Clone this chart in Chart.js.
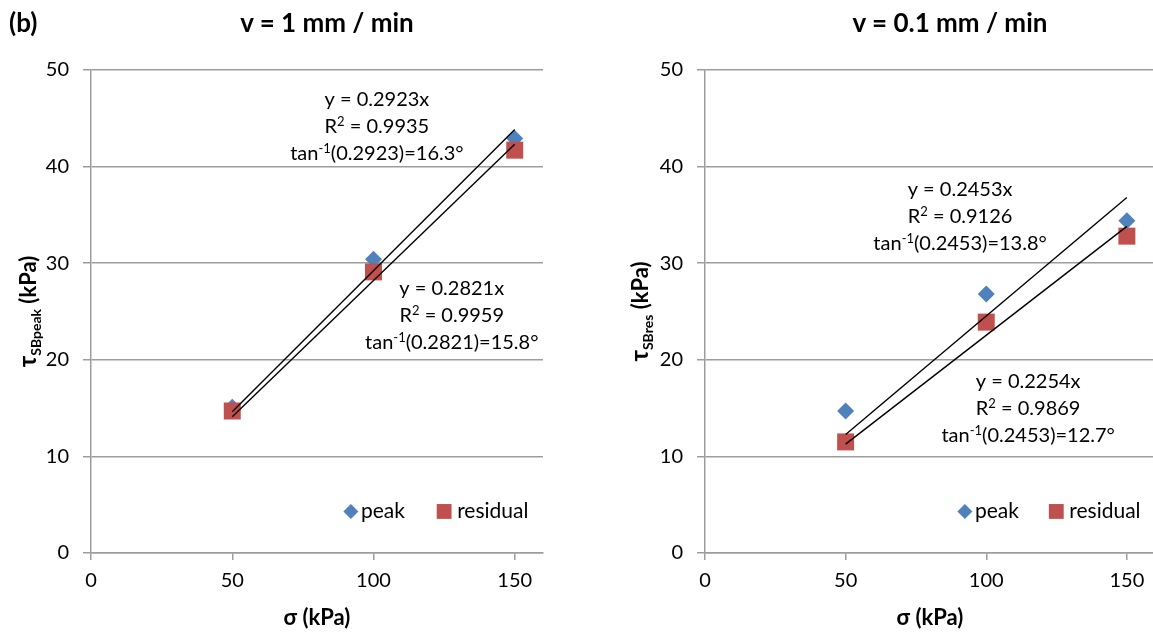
<!DOCTYPE html>
<html>
<head>
<meta charset="utf-8">
<script src="https://cdn.jsdelivr.net/npm/chart.js@4/dist/chart.umd.min.js"></script>
<style>
    html, body { margin: 0; background: #fff; overflow: hidden; }
    body { width: 1153px; height: 636px; position: relative; font-family: Lato, sans-serif; }
    .panel { position: absolute; top: 0; height: 636px; }
    .title { position: absolute; top: 4px; line-height: 36px; font-size: 26px; font-weight: bold; color: #000; white-space: nowrap; transform: translateX(-50%); z-index: 2; }
</style>
</head>
<body>
<div class="panel" style="left: 0; width: 576px;"><canvas id="chartFast" width="576" height="636"></canvas></div>
<div class="panel" style="left: 576px; width: 581px;"><canvas id="chartSlow" width="581" height="636"></canvas></div>
<div class="title" style="left: 9px; transform: none;">(b)</div>
<div class="title" id="titleFast" style="left: 327px;"></div>
<div class="title" id="titleSlow" style="left: 950px;"></div>

<script>
// ---- data ----
const titles = ['v = 1 mm / min', 'v = 0.1 mm / min'];
const seriesNames = ['peak', 'residual'];
const xTicks = [0, 50, 100, 150];
const yTicks = [0, 10, 20, 30, 40, 50];

const sigma = [50, 100, 150];
const peakFast = [15.1, 30.4, 42.9];
const residualFast = [14.7, 29.1, 41.7];
const peakSlow = [14.7, 26.8, 34.4];
const residualSlow = [11.5, 23.9, 32.8];

// linear trendlines through the origin, drawn over the measured range
const trendRange = [50, 150];
const slopesFast = [0.2923, 0.2821];
const r2Fast = ['0.9935', '0.9959'];
const tanArgFast = ['0.2923', '0.2821'];
const anglesFast = ['16.3', '15.8'];
const slopesSlow = [0.2453, 0.2254];
const r2Slow = ['0.9126', '0.9869'];
const tanArgSlow = ['0.2453', '0.2453'];
const anglesSlow = ['13.8', '12.7'];

const BLUE = '#4F81BD';
const RED = '#C0504D';
const GRID = '#9d9d9d';
const FONT = 'Lato, sans-serif';

function toPoints(xs, ys) {
    return xs.map((x, i) => ({ x: x, y: ys[i] }));
}

function trendPoints(slope) {
    return trendRange.map(x => ({ x: x, y: slope * x }));
}

// draws a row of text pieces (normal / sup / sub) centred on cx, baseline at y
function drawRich(ctx, parts, cx, y) {
    let total = 0;
    parts.forEach(p => {
        ctx.font = p.font;
        p.w = ctx.measureText(p.text).width;
        total += p.w;
    });
    let x = cx - total / 2;
    ctx.textAlign = 'left';
    ctx.textBaseline = 'alphabetic';
    parts.forEach(p => {
        ctx.font = p.font;
        ctx.fillText(p.text, x, y + (p.dy || 0));
        x += p.w;
    });
}

function noteLines(slope, r2, tanArg, angle) {
    const f = `20px ${FONT}`;
    const s = `13px ${FONT}`;
    return [
        [{ text: `y = ${slope}x`, font: f }],
        [{ text: 'R', font: f }, { text: '2', font: s, dy: -7 }, { text: ` = ${r2}`, font: f }],
        [{ text: 'tan', font: f }, { text: '-1', font: s, dy: -7 }, { text: `(${tanArg})=${angle}°`, font: f }]
    ];
}

const overlayPlugin = {
    id: 'overlay',
    afterDatasetsDraw(chart, args, opts) {
        const ctx = chart.ctx;
        const xs = chart.scales.x;
        const ys = chart.scales.y;
        const area = chart.chartArea;
        ctx.save();
        ctx.fillStyle = '#000';

        // y axis title with subscript
        ctx.save();
        ctx.translate(opts.yTitleX, (area.top + area.bottom) / 2);
        ctx.rotate(-Math.PI / 2);
        drawRich(ctx, [
            { text: 'τ', font: `bold 24px ${FONT}` },
            { text: opts.ySub, font: `bold 14px ${FONT}`, dy: 5 },
            { text: ' (kPa)', font: `bold 22px ${FONT}` }
        ], 0, 8);
        ctx.restore();

        // trendline equations
        opts.notes.forEach(n => {
            const cx = xs.getPixelForValue(n.at[0]);
            const cy = ys.getPixelForValue(n.at[1]);
            n.lines.forEach((line, i) => drawRich(ctx, line, cx, cy + 7 + i * 27));
        });

        // legend inside the plot
        const ly = ys.getPixelForValue(4.3);
        chart.data.datasets.slice(0, 2).forEach((ds, i) => {
            const mx = xs.getPixelForValue(opts.legendAt[i]);
            ctx.fillStyle = ds.backgroundColor;
            Chart.helpers.drawPoint(ctx, { pointStyle: ds.pointStyle, radius: i === 0 ? 7.5 : 10.5, rotation: 0, borderWidth: 0 }, mx, ly);
            ctx.fillStyle = '#000';
            ctx.font = `21px ${FONT}`;
            ctx.textAlign = 'left';
            ctx.textBaseline = 'middle';
            ctx.fillText(ds.label, mx + (i === 0 ? 10 : 13), ly);
        });
        ctx.restore();
    }
};

function makeChart(canvasId, cfg) {
    const ctx = document.getElementById(canvasId).getContext('2d');
    const tickFont = { family: FONT, size: 20 };
    return new Chart(ctx, {
        type: 'scatter',
        data: {
            datasets: [{
                label: seriesNames[0],
                data: toPoints(sigma, cfg.peak),
                pointStyle: 'rectRot',
                pointRadius: 8.5,
                backgroundColor: BLUE,
                borderColor: BLUE,
                borderWidth: 0,
                order: 2
            }, {
                label: seriesNames[1],
                data: toPoints(sigma, cfg.residual),
                pointStyle: 'rect',
                pointRadius: 12,
                backgroundColor: RED,
                borderColor: RED,
                borderWidth: 0,
                order: 1
            }, {
                label: 'trend peak',
                data: trendPoints(cfg.slopes[0]),
                showLine: true,
                borderColor: '#000',
                borderWidth: 1.4,
                pointRadius: 0,
                order: 0
            }, {
                label: 'trend residual',
                data: trendPoints(cfg.slopes[1]),
                showLine: true,
                borderColor: '#000',
                borderWidth: 1.4,
                pointRadius: 0,
                order: 0
            }]
        },
        options: {
            responsive: false,
            animation: false,
            events: [],
            layout: {
                autoPadding: false,
                padding: { top: 70, right: cfg.padRight, left: 0, bottom: 0 }
            },
            plugins: {
                legend: { display: false },
                tooltip: { enabled: false },
                overlay: cfg.overlay
            },
            scales: {
                x: {
                    type: 'linear',
                    min: 0,
                    max: 160,
                    afterBuildTicks: axis => { axis.ticks = xTicks.map(v => ({ value: v })); },
                    afterFit: axis => {
                        axis.height = 83;
                        // don't let the edge labels squeeze the plot area
                        axis.paddingLeft = 0;
                        axis.paddingRight = 0;
                    },
                    grid: { drawOnChartArea: false, color: GRID, lineWidth: 1.5, tickLength: 7 },
                    border: { color: GRID, width: 1.5 },
                    ticks: { font: tickFont, color: '#000', padding: 9, maxRotation: 0 },
                    title: {
                        display: true,
                        text: 'σ (kPa)',
                        color: '#000',
                        font: { family: FONT, size: 22, weight: 'bold' },
                        padding: { top: 0, bottom: 5 }
                    }
                },
                y: {
                    type: 'linear',
                    min: 0,
                    max: 50,
                    afterBuildTicks: axis => { axis.ticks = yTicks.map(v => ({ value: v })); },
                    afterFit: axis => { axis.width = cfg.yWidth; },
                    grid: { color: GRID, lineWidth: 1.5, tickLength: 8 },
                    border: { color: GRID, width: 1.5 },
                    ticks: { font: tickFont, color: '#000', padding: 14 }
                }
            }
        },
        plugins: [overlayPlugin]
    });
}

document.getElementById('titleFast').textContent = titles[0];
document.getElementById('titleSlow').textContent = titles[1];

makeChart('chartFast', {
    peak: peakFast,
    residual: residualFast,
    slopes: slopesFast,
    yWidth: 91,
    padRight: 33,
    overlay: {
        ySub: 'SBpeak',
        yTitleX: 28,
        legendAt: [92, 125],
        notes: [
            { at: [101.2, 47.0], lines: noteLines(slopesFast[0], r2Fast[0], tanArgFast[0], anglesFast[0]) },
            { at: [127.7, 27.4], lines: noteLines(slopesFast[1], r2Fast[1], tanArgFast[1], anglesFast[1]) }
        ]
    }
});

// right panel runs a few pixels past the page edge, like the cropped original
makeChart('chartSlow', {
    peak: peakSlow,
    residual: residualSlow,
    slopes: slopesSlow,
    yWidth: 129,
    padRight: 2,
    overlay: {
        ySub: 'SBres',
        yTitleX: 64,
        legendAt: [92.4, 124.9],
        notes: [
            { at: [90.7, 37.7], lines: noteLines(slopesSlow[0], r2Slow[0], tanArgSlow[0], anglesSlow[0]) },
            { at: [114.9, 17.8], lines: noteLines(slopesSlow[1], r2Slow[1], tanArgSlow[1], anglesSlow[1]) }
        ]
    }
});
</script>
</body>
</html>
